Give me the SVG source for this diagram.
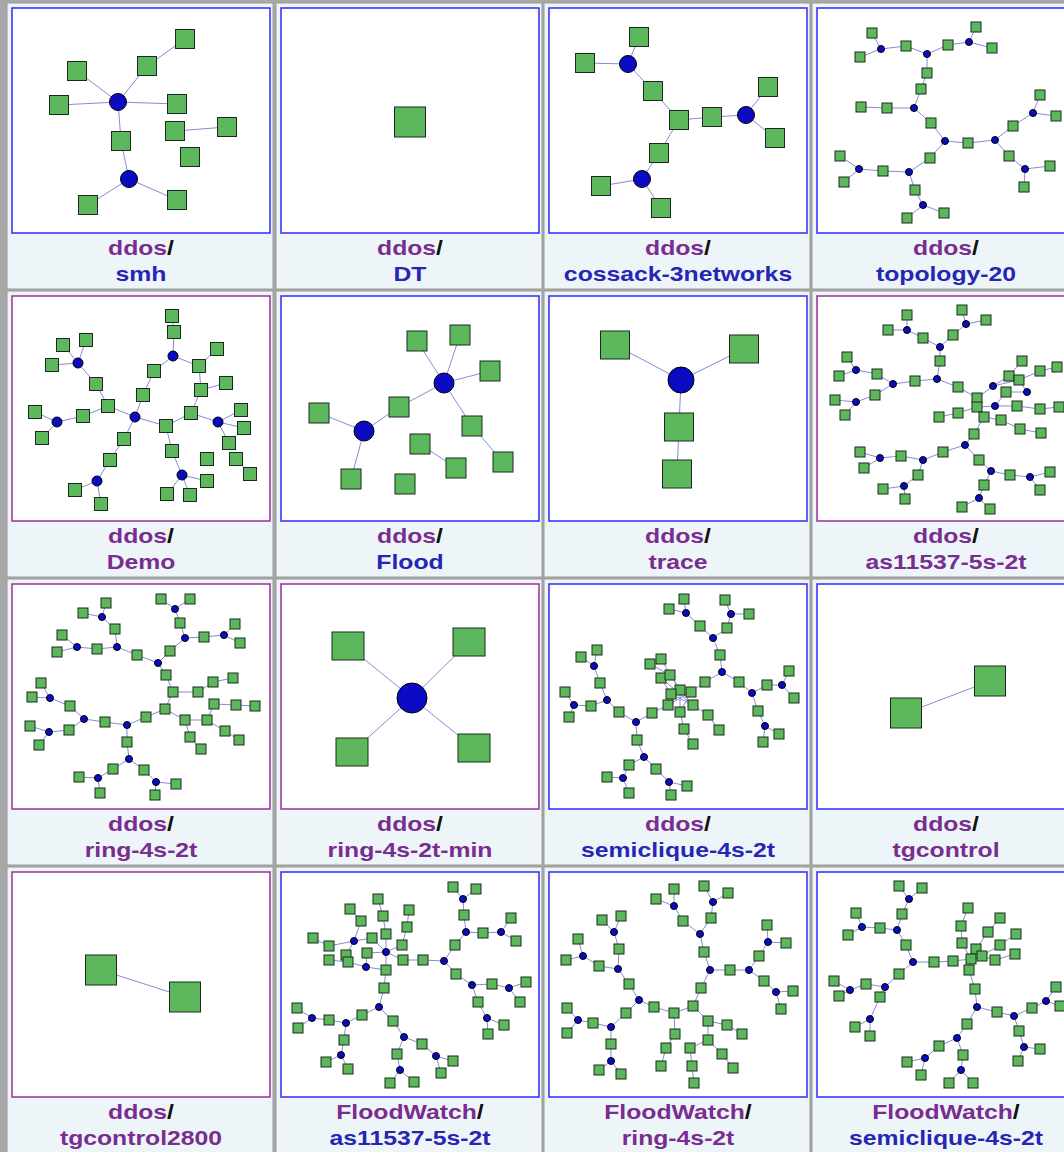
<svg xmlns="http://www.w3.org/2000/svg" xmlns:xlink="http://www.w3.org/1999/xlink" width="1064" height="1152" viewBox="0 0 1064 1152">
<style>
.cell{fill:#eef5f8;stroke:#9a9a9a;stroke-width:1}
.fb{fill:#fff;stroke:#2b2bff;stroke-width:1.5}
.fp{fill:#fff;stroke:#9b2f98;stroke-width:1.5}
.e{fill:none;stroke:#8a8ad6;stroke-width:1}
.g{fill:#5db85d;stroke:#1b2b1b;stroke-width:1}
.h{fill:#0b0bc4;stroke:#000;stroke-width:1}
.t{font-family:"Liberation Sans",Arial,sans-serif;font-weight:bold;font-size:19.5px;text-anchor:middle}
.p{fill:#7a2d90}
.k{fill:#111}
.b{fill:#2626b4}
</style>
<defs>
<rect id="q10" class="g" x="-5" y="-5" width="10" height="10"/>
<rect id="q13" class="g" x="-6.5" y="-6.5" width="13" height="13"/>
<rect id="q19" class="g" x="-9.5" y="-9.5" width="19" height="19"/>
<rect id="q20" class="g" x="-10" y="-10" width="20" height="20"/>
<rect id="q29" class="g" x="-14.5" y="-14" width="29" height="28"/>
<rect id="q31" class="g" x="-15.5" y="-15" width="31" height="30"/>
<rect id="q32" class="g" x="-16" y="-14" width="32" height="28"/>
</defs>
<rect x="0" y="0" width="1064" height="1152" fill="#a8a8a8"/>
<g id="cells">
<rect class="cell" x="7" y="3" width="266" height="286"/><rect class="cell" x="276" y="3" width="266" height="286"/><rect class="cell" x="544" y="3" width="266" height="286"/><rect class="cell" x="812" y="3" width="266" height="286"/>
<rect class="cell" x="7" y="291" width="266" height="286"/><rect class="cell" x="276" y="291" width="266" height="286"/><rect class="cell" x="544" y="291" width="266" height="286"/><rect class="cell" x="812" y="291" width="266" height="286"/>
<rect class="cell" x="7" y="579" width="266" height="286"/><rect class="cell" x="276" y="579" width="266" height="286"/><rect class="cell" x="544" y="579" width="266" height="286"/><rect class="cell" x="812" y="579" width="266" height="286"/>
<rect class="cell" x="7" y="867" width="266" height="290"/><rect class="cell" x="276" y="867" width="266" height="290"/><rect class="cell" x="544" y="867" width="266" height="290"/><rect class="cell" x="812" y="867" width="266" height="290"/>
</g>
<g id="frames">
<rect class="fb" x="12" y="8" width="258" height="225"/><rect class="fb" x="281" y="8" width="258" height="225"/><rect class="fb" x="549" y="8" width="258" height="225"/><rect class="fb" x="817" y="8" width="258" height="225"/>
<rect class="fp" x="12" y="296" width="258" height="225"/><rect class="fb" x="281" y="296" width="258" height="225"/><rect class="fb" x="549" y="296" width="258" height="225"/><rect class="fp" x="817" y="296" width="258" height="225"/>
<rect class="fp" x="12" y="584" width="258" height="225"/><rect class="fp" x="281" y="584" width="258" height="225"/><rect class="fb" x="549" y="584" width="258" height="225"/><rect class="fb" x="817" y="584" width="258" height="225"/>
<rect class="fp" x="12" y="872" width="258" height="225"/><rect class="fb" x="281" y="872" width="258" height="225"/><rect class="fb" x="549" y="872" width="258" height="225"/><rect class="fb" x="817" y="872" width="258" height="225"/>
</g>
<g id="connectors">
<path class="e" d="M147,66L185,39 M118,102L147,66 M118,102L77,71 M118,102L59,105 M118,102L177,104 M118,102L121,141 M121,141L129,179 M129,179L88,205 M129,179L177,200 M175,131L227,127"/>
<path class="e" d="M628,64L639,37 M628,64L585,63 M628,64L653,91 M653,91L679,120 M679,120L712,117 M712,117L746,115 M746,115L768,87 M746,115L775,138 M679,120L659,153 M659,153L642,179 M642,179L601,186 M642,179L661,208"/>
<path class="e" d="M881,49L872,33 M881,49L860,57 M881,49L906,46 M906,46L927,54 M927,54L948,45 M948,45L969,42 M969,42L976,27 M969,42L992,48 M927,54L927,73 M927,73L921,89 M921,89L914,108 M914,108L887,108 M887,108L861,107 M914,108L931,123 M931,123L945,141 M945,141L968,143 M968,143L995,140 M995,140L1013,126 M1013,126L1033,113 M1033,113L1040,95 M1033,113L1056,116 M995,140L1009,156 M1009,156L1025,169 M1025,169L1050,166 M1025,169L1024,187 M945,141L930,158 M930,158L909,172 M909,172L883,171 M883,171L859,169 M859,169L840,156 M859,169L844,182 M909,172L915,190 M915,190L923,205 M923,205L907,218 M923,205L944,213"/>
<path class="e" d="M78,363L63,345 M78,363L86,340 M78,363L52,365 M78,363L96,384 M96,384L108,406 M108,406L83,416 M83,416L57,422 M57,422L35,412 M57,422L42,438 M108,406L135,417 M135,417L143,395 M143,395L154,371 M154,371L173,356 M173,356L174,332 M174,332L172,316 M173,356L199,366 M199,366L217,349 M199,366L201,390 M201,390L226,383 M201,390L191,413 M191,413L218,422 M218,422L241,410 M218,422L244,428 M218,422L229,443 M135,417L166,426 M166,426L191,413 M166,426L172,451 M172,451L182,475 M182,475L207,481 M182,475L167,494 M182,475L190,495 M135,417L124,439 M124,439L110,460 M110,460L97,481 M97,481L75,490 M97,481L101,504 M236,459L250,474"/>
<path class="e" d="M444,383L417,341 M444,383L460,335 M444,383L490,371 M444,383L399,407 M399,407L364,431 M364,431L319,413 M364,431L351,479 M444,383L472,426 M472,426L503,462 M420,444L456,468"/>
<path class="e" d="M681,380L615,345 M681,380L744,349 M681,380L679,427 M679,427L677,474"/>
<path class="e" d="M907,330L907,315 M907,330L888,330 M907,330L923,338 M923,338L940,347 M940,347L953,335 M953,335L966,324 M966,324L962,310 M966,324L986,320 M940,347L940,361 M940,361L937,379 M937,379L915,381 M915,381L893,384 M893,384L877,374 M877,374L856,370 M856,370L847,357 M856,370L839,376 M893,384L875,395 M875,395L856,402 M856,402L835,400 M856,402L845,415 M937,379L958,387 M958,387L977,398 M977,398L993,386 M993,386L1009,376 M1009,376L1022,361 M993,386L1019,380 M1019,380L1040,371 M1040,371L1057,367 M977,398L977,407 M977,407L995,406 M995,406L1017,406 M1017,406L1040,409 M1040,409L1059,407 M1006,392L1027,392 M1027,392L1019,380 M995,406L1006,392 M977,407L958,413 M958,413L939,417 M977,407L984,417 M984,417L1001,420 M1001,420L1020,429 M1020,429L1041,433 M984,417L974,434 M974,434L965,445 M965,445L943,452 M943,452L923,460 M923,460L901,456 M901,456L880,458 M880,458L860,452 M880,458L864,468 M923,460L918,475 M918,475L904,486 M904,486L883,489 M904,486L905,499 M965,445L979,460 M979,460L991,471 M991,471L1010,475 M1010,475L1030,477 M1030,477L1050,472 M1030,477L1040,490 M991,471L984,485 M984,485L979,498 M979,498L962,507 M979,498L990,509"/>
<path class="e" d="M102,617L106,603 M102,617L83,613 M102,617L115,629 M115,629L117,647 M117,647L97,649 M97,649L77,647 M77,647L62,635 M77,647L57,652 M117,647L137,655 M137,655L158,663 M158,663L170,651 M170,651L185,638 M185,638L180,623 M180,623L175,609 M175,609L161,599 M175,609L190,599 M185,638L204,637 M204,637L224,635 M224,635L235,624 M224,635L240,643 M158,663L166,675 M166,675L173,692 M173,692L198,692 M198,692L213,682 M213,682L233,678 M173,692L165,709 M165,709L146,717 M146,717L127,725 M165,709L185,720 M185,720L207,720 M207,720L214,704 M214,704L236,705 M236,705L255,706 M207,720L225,731 M225,731L239,740 M185,720L190,737 M190,737L201,749 M127,725L105,722 M105,722L84,719 M84,719L70,706 M70,706L50,698 M50,698L41,683 M50,698L32,697 M84,719L69,730 M69,730L49,732 M49,732L30,726 M49,732L39,745 M127,725L127,742 M127,742L129,759 M129,759L113,769 M113,769L98,778 M98,778L79,777 M98,778L100,793 M129,759L144,770 M144,770L156,782 M156,782L176,784 M156,782L155,795"/>
<path class="e" d="M412,698L348,646 M412,698L469,642 M412,698L352,752 M412,698L474,748"/>
<path class="e" d="M686,613L684,599 M686,613L669,609 M686,613L700,626 M700,626L713,638 M731,614L725,600 M731,614L749,614 M731,614L727,628 M727,628L713,638 M713,638L720,655 M720,655L722,672 M722,672L705,682 M705,682L691,692 M722,672L739,682 M739,682L752,693 M752,693L767,685 M767,685L782,685 M782,685L789,671 M782,685L794,698 M752,693L758,711 M758,711L765,726 M765,726L779,734 M765,726L763,742 M661,659L680,690 M650,664L670,675 M670,675L680,690 M661,678L671,694 M661,678L693,705 M680,690L680,712 M671,694L693,705 M668,705L691,692 M691,692L680,712 M668,705L652,713 M680,690L668,705 M652,713L636,722 M636,722L619,712 M619,712L607,700 M607,700L600,683 M600,683L594,666 M594,666L597,650 M594,666L581,657 M607,700L591,706 M591,706L574,705 M574,705L565,692 M574,705L569,717 M636,722L637,740 M637,740L644,757 M644,757L629,765 M629,765L623,778 M623,778L607,777 M623,778L629,793 M644,757L656,769 M656,769L669,782 M669,782L687,786 M669,782L671,795 M680,712L684,729 M684,729L693,744 M693,705L708,715 M708,715L719,730"/>
<path class="e" d="M906,713L990,681"/>
<path class="e" d="M101,970L185,997"/>
<path class="e" d="M463,899L453,887 M463,899L476,889 M463,899L464,915 M464,915L466,932 M466,932L483,933 M483,933L501,932 M501,932L511,918 M501,932L516,941 M466,932L455,945 M455,945L444,961 M444,961L423,960 M423,960L403,960 M444,961L456,974 M456,974L472,985 M472,985L492,984 M492,984L509,988 M509,988L526,982 M509,988L520,1002 M472,985L478,1002 M478,1002L487,1018 M487,1018L504,1025 M487,1018L488,1034 M386,952L403,960 M386,952L386,934 M386,934L383,916 M383,916L378,899 M386,952L402,945 M402,945L407,927 M407,927L409,910 M386,952L367,953 M386,952L386,970 M386,970L384,988 M384,988L379,1007 M350,909L361,921 M361,921L354,941 M354,941L372,938 M354,941L329,946 M329,946L313,938 M354,941L346,955 M346,955L348,962 M329,960L348,962 M348,962L366,967 M366,967L367,953 M366,967L386,970 M372,938L386,952 M379,1007L362,1015 M362,1015L346,1023 M346,1023L329,1020 M329,1020L312,1018 M312,1018L297,1008 M312,1018L298,1028 M346,1023L344,1040 M344,1040L341,1055 M341,1055L326,1062 M341,1055L348,1069 M379,1007L393,1021 M393,1021L404,1037 M404,1037L422,1044 M422,1044L436,1056 M436,1056L453,1061 M436,1056L441,1073 M404,1037L397,1054 M397,1054L400,1070 M400,1070L390,1083 M400,1070L414,1082"/>
<path class="e" d="M674,906L674,889 M674,906L656,899 M674,906L683,921 M683,921L700,934 M713,902L704,886 M713,902L728,893 M713,902L711,918 M711,918L700,934 M700,934L704,952 M704,952L710,970 M710,970L730,970 M730,970L749,970 M749,970L759,956 M759,956L768,942 M768,942L767,925 M768,942L786,943 M749,970L764,981 M764,981L776,992 M776,992L793,991 M776,992L781,1009 M710,970L701,988 M701,988L693,1006 M693,1006L674,1013 M674,1013L654,1007 M654,1007L639,1000 M674,1013L675,1034 M675,1034L666,1048 M666,1048L661,1066 M693,1006L708,1021 M708,1021L727,1025 M727,1025L742,1034 M708,1021L708,1040 M708,1040L722,1054 M722,1054L733,1068 M708,1040L690,1048 M690,1048L692,1066 M692,1066L694,1083 M639,1000L629,984 M629,984L618,969 M618,969L599,966 M599,966L583,956 M583,956L578,939 M583,956L566,960 M618,969L619,949 M619,949L614,932 M614,932L602,920 M614,932L621,916 M639,1000L626,1013 M626,1013L611,1027 M611,1027L593,1023 M593,1023L578,1020 M578,1020L567,1008 M578,1020L567,1033 M611,1027L611,1044 M611,1044L611,1061 M611,1061L599,1070 M611,1061L621,1074"/>
<path class="e" d="M909,899L899,886 M909,899L922,888 M909,899L902,914 M902,914L897,930 M897,930L880,928 M880,928L862,927 M862,927L856,913 M862,927L848,935 M897,930L906,945 M906,945L913,962 M913,962L934,962 M934,962L953,961 M953,961L971,959 M971,959L962,943 M962,943L961,926 M961,926L968,908 M971,959L976,949 M976,949L988,932 M988,932L1000,918 M982,956L1000,945 M1000,945L1016,934 M982,956L995,960 M995,960L1015,954 M971,959L982,956 M971,959L969,970 M969,970L975,989 M975,989L977,1007 M977,1007L997,1012 M997,1012L1014,1016 M1014,1016L1032,1008 M1032,1008L1046,1001 M1046,1001L1056,987 M1046,1001L1060,1006 M1014,1016L1019,1031 M1019,1031L1024,1047 M1024,1047L1040,1049 M1024,1047L1018,1061 M977,1007L967,1024 M967,1024L957,1038 M957,1038L939,1046 M939,1046L925,1058 M925,1058L907,1062 M925,1058L921,1075 M957,1038L963,1055 M963,1055L961,1070 M961,1070L949,1083 M961,1070L973,1083 M913,962L899,974 M899,974L885,987 M885,987L866,984 M866,984L850,990 M850,990L834,981 M850,990L839,996 M885,987L880,997 M880,997L870,1019 M870,1019L855,1027 M870,1019L870,1036"/>
</g>
<g id="smh">
<use href="#q19" x="185" y="39"/><use href="#q19" x="147" y="66"/><use href="#q19" x="77" y="71"/><use href="#q19" x="59" y="105"/><use href="#q19" x="177" y="104"/><use href="#q19" x="175" y="131"/><use href="#q19" x="227" y="127"/><use href="#q19" x="190" y="157"/><use href="#q19" x="121" y="141"/><use href="#q19" x="88" y="205"/><use href="#q19" x="177" y="200"/>
<circle class="h" cx="118" cy="102" r="8.5"/><circle class="h" cx="129" cy="179" r="8.5"/>
</g>
<g id="DT"><use href="#q31" x="410" y="122"/></g>
<g id="cossack-3networks">
<use href="#q19" x="639" y="37"/><use href="#q19" x="585" y="63"/><use href="#q19" x="653" y="91"/><use href="#q19" x="679" y="120"/><use href="#q19" x="712" y="117"/><use href="#q19" x="768" y="87"/><use href="#q19" x="775" y="138"/><use href="#q19" x="659" y="153"/><use href="#q19" x="601" y="186"/><use href="#q19" x="661" y="208"/>
<circle class="h" cx="628" cy="64" r="8.5"/><circle class="h" cx="746" cy="115" r="8.5"/><circle class="h" cx="642" cy="179" r="8.5"/>
</g>
<g id="topology-20">
<use href="#q10" x="872" y="33"/><use href="#q10" x="860" y="57"/><use href="#q10" x="906" y="46"/><use href="#q10" x="948" y="45"/><use href="#q10" x="976" y="27"/><use href="#q10" x="992" y="48"/><use href="#q10" x="927" y="73"/><use href="#q10" x="921" y="89"/><use href="#q10" x="861" y="107"/><use href="#q10" x="887" y="108"/><use href="#q10" x="931" y="123"/><use href="#q10" x="968" y="143"/><use href="#q10" x="1013" y="126"/><use href="#q10" x="1040" y="95"/><use href="#q10" x="1056" y="116"/><use href="#q10" x="1009" y="156"/><use href="#q10" x="1050" y="166"/><use href="#q10" x="1024" y="187"/><use href="#q10" x="930" y="158"/><use href="#q10" x="883" y="171"/><use href="#q10" x="840" y="156"/><use href="#q10" x="844" y="182"/><use href="#q10" x="915" y="190"/><use href="#q10" x="907" y="218"/><use href="#q10" x="944" y="213"/>
<circle class="h" cx="881" cy="49" r="3.5"/><circle class="h" cx="927" cy="54" r="3.5"/><circle class="h" cx="969" cy="42" r="3.5"/><circle class="h" cx="914" cy="108" r="3.5"/><circle class="h" cx="945" cy="141" r="3.5"/><circle class="h" cx="995" cy="140" r="3.5"/><circle class="h" cx="1033" cy="113" r="3.5"/><circle class="h" cx="1025" cy="169" r="3.5"/><circle class="h" cx="859" cy="169" r="3.5"/><circle class="h" cx="909" cy="172" r="3.5"/><circle class="h" cx="923" cy="205" r="3.5"/>
</g>
<g id="Demo">
<use href="#q13" x="172" y="316"/><use href="#q13" x="174" y="332"/><use href="#q13" x="63" y="345"/><use href="#q13" x="86" y="340"/><use href="#q13" x="52" y="365"/><use href="#q13" x="96" y="384"/><use href="#q13" x="108" y="406"/><use href="#q13" x="83" y="416"/><use href="#q13" x="35" y="412"/><use href="#q13" x="42" y="438"/><use href="#q13" x="154" y="371"/><use href="#q13" x="143" y="395"/><use href="#q13" x="217" y="349"/><use href="#q13" x="199" y="366"/><use href="#q13" x="226" y="383"/><use href="#q13" x="201" y="390"/><use href="#q13" x="191" y="413"/><use href="#q13" x="166" y="426"/><use href="#q13" x="241" y="410"/><use href="#q13" x="244" y="428"/><use href="#q13" x="229" y="443"/><use href="#q13" x="124" y="439"/><use href="#q13" x="110" y="460"/><use href="#q13" x="172" y="451"/><use href="#q13" x="207" y="459"/><use href="#q13" x="236" y="459"/><use href="#q13" x="250" y="474"/><use href="#q13" x="207" y="481"/><use href="#q13" x="167" y="494"/><use href="#q13" x="190" y="495"/><use href="#q13" x="75" y="490"/><use href="#q13" x="101" y="504"/>
<circle class="h" cx="78" cy="363" r="5"/><circle class="h" cx="57" cy="422" r="5"/><circle class="h" cx="135" cy="417" r="5"/><circle class="h" cx="173" cy="356" r="5"/><circle class="h" cx="218" cy="422" r="5"/><circle class="h" cx="182" cy="475" r="5"/><circle class="h" cx="97" cy="481" r="5"/>
</g>
<g id="Flood">
<use href="#q20" x="417" y="341"/><use href="#q20" x="460" y="335"/><use href="#q20" x="490" y="371"/><use href="#q20" x="399" y="407"/><use href="#q20" x="319" y="413"/><use href="#q20" x="472" y="426"/><use href="#q20" x="420" y="444"/><use href="#q20" x="456" y="468"/><use href="#q20" x="503" y="462"/><use href="#q20" x="351" y="479"/><use href="#q20" x="405" y="484"/>
<circle class="h" cx="444" cy="383" r="10"/><circle class="h" cx="364" cy="431" r="10"/>
</g>
<g id="trace">
<use href="#q29" x="615" y="345"/><use href="#q29" x="744" y="349"/><use href="#q29" x="679" y="427"/><use href="#q29" x="677" y="474"/>
<circle class="h" cx="681" cy="380" r="13"/>
</g>
<g id="as11537-5s-2t">
<use href="#q10" x="907" y="315"/><use href="#q10" x="962" y="310"/><use href="#q10" x="986" y="320"/><use href="#q10" x="888" y="330"/><use href="#q10" x="923" y="338"/><use href="#q10" x="953" y="335"/><use href="#q10" x="940" y="361"/><use href="#q10" x="847" y="357"/><use href="#q10" x="839" y="376"/><use href="#q10" x="877" y="374"/><use href="#q10" x="915" y="381"/><use href="#q10" x="958" y="387"/><use href="#q10" x="875" y="395"/><use href="#q10" x="835" y="400"/><use href="#q10" x="845" y="415"/><use href="#q10" x="1022" y="361"/><use href="#q10" x="1040" y="371"/><use href="#q10" x="1057" y="367"/><use href="#q10" x="1009" y="376"/><use href="#q10" x="1019" y="380"/><use href="#q10" x="1006" y="392"/><use href="#q10" x="977" y="398"/><use href="#q10" x="977" y="407"/><use href="#q10" x="1017" y="406"/><use href="#q10" x="1040" y="409"/><use href="#q10" x="1059" y="407"/><use href="#q10" x="939" y="417"/><use href="#q10" x="958" y="413"/><use href="#q10" x="984" y="417"/><use href="#q10" x="1001" y="420"/><use href="#q10" x="1020" y="429"/><use href="#q10" x="1041" y="433"/><use href="#q10" x="974" y="434"/><use href="#q10" x="943" y="452"/><use href="#q10" x="901" y="456"/><use href="#q10" x="860" y="452"/><use href="#q10" x="864" y="468"/><use href="#q10" x="918" y="475"/><use href="#q10" x="883" y="489"/><use href="#q10" x="905" y="499"/><use href="#q10" x="979" y="460"/><use href="#q10" x="1010" y="475"/><use href="#q10" x="1050" y="472"/><use href="#q10" x="1040" y="490"/><use href="#q10" x="984" y="485"/><use href="#q10" x="962" y="507"/><use href="#q10" x="990" y="509"/>
<circle class="h" cx="907" cy="330" r="3.5"/><circle class="h" cx="966" cy="324" r="3.5"/><circle class="h" cx="940" cy="347" r="3.5"/><circle class="h" cx="937" cy="379" r="3.5"/><circle class="h" cx="893" cy="384" r="3.5"/><circle class="h" cx="856" cy="370" r="3.5"/><circle class="h" cx="856" cy="402" r="3.5"/><circle class="h" cx="993" cy="386" r="3.5"/><circle class="h" cx="1027" cy="392" r="3.5"/><circle class="h" cx="995" cy="406" r="3.5"/><circle class="h" cx="965" cy="445" r="3.5"/><circle class="h" cx="923" cy="460" r="3.5"/><circle class="h" cx="880" cy="458" r="3.5"/><circle class="h" cx="904" cy="486" r="3.5"/><circle class="h" cx="991" cy="471" r="3.5"/><circle class="h" cx="1030" cy="477" r="3.5"/><circle class="h" cx="979" cy="498" r="3.5"/>
</g>
<g id="ring-4s-2t">
<use href="#q10" x="106" y="603"/><use href="#q10" x="83" y="613"/><use href="#q10" x="161" y="599"/><use href="#q10" x="190" y="599"/><use href="#q10" x="115" y="629"/><use href="#q10" x="180" y="623"/><use href="#q10" x="235" y="624"/><use href="#q10" x="240" y="643"/><use href="#q10" x="204" y="637"/><use href="#q10" x="62" y="635"/><use href="#q10" x="57" y="652"/><use href="#q10" x="97" y="649"/><use href="#q10" x="137" y="655"/><use href="#q10" x="170" y="651"/><use href="#q10" x="166" y="675"/><use href="#q10" x="41" y="683"/><use href="#q10" x="32" y="697"/><use href="#q10" x="233" y="678"/><use href="#q10" x="213" y="682"/><use href="#q10" x="173" y="692"/><use href="#q10" x="198" y="692"/><use href="#q10" x="70" y="706"/><use href="#q10" x="214" y="704"/><use href="#q10" x="236" y="705"/><use href="#q10" x="255" y="706"/><use href="#q10" x="165" y="709"/><use href="#q10" x="146" y="717"/><use href="#q10" x="105" y="722"/><use href="#q10" x="185" y="720"/><use href="#q10" x="207" y="720"/><use href="#q10" x="30" y="726"/><use href="#q10" x="69" y="730"/><use href="#q10" x="39" y="745"/><use href="#q10" x="225" y="731"/><use href="#q10" x="239" y="740"/><use href="#q10" x="190" y="737"/><use href="#q10" x="201" y="749"/><use href="#q10" x="127" y="742"/><use href="#q10" x="113" y="769"/><use href="#q10" x="144" y="770"/><use href="#q10" x="79" y="777"/><use href="#q10" x="176" y="784"/><use href="#q10" x="100" y="793"/><use href="#q10" x="155" y="795"/>
<circle class="h" cx="102" cy="617" r="3.5"/><circle class="h" cx="175" cy="609" r="3.5"/><circle class="h" cx="185" cy="638" r="3.5"/><circle class="h" cx="224" cy="635" r="3.5"/><circle class="h" cx="77" cy="647" r="3.5"/><circle class="h" cx="117" cy="647" r="3.5"/><circle class="h" cx="158" cy="663" r="3.5"/><circle class="h" cx="50" cy="698" r="3.5"/><circle class="h" cx="84" cy="719" r="3.5"/><circle class="h" cx="49" cy="732" r="3.5"/><circle class="h" cx="127" cy="725" r="3.5"/><circle class="h" cx="129" cy="759" r="3.5"/><circle class="h" cx="98" cy="778" r="3.5"/><circle class="h" cx="156" cy="782" r="3.5"/>
</g>
<g id="ring-4s-2t-min">
<use href="#q32" x="348" y="646"/><use href="#q32" x="469" y="642"/><use href="#q32" x="352" y="752"/><use href="#q32" x="474" y="748"/>
<circle class="h" cx="412" cy="698" r="15"/>
</g>
<g id="semiclique-4s-2t">
<use href="#q10" x="684" y="599"/><use href="#q10" x="669" y="609"/><use href="#q10" x="725" y="600"/><use href="#q10" x="749" y="614"/><use href="#q10" x="700" y="626"/><use href="#q10" x="727" y="628"/><use href="#q10" x="597" y="650"/><use href="#q10" x="581" y="657"/><use href="#q10" x="720" y="655"/><use href="#q10" x="661" y="659"/><use href="#q10" x="650" y="664"/><use href="#q10" x="789" y="671"/><use href="#q10" x="661" y="678"/><use href="#q10" x="670" y="675"/><use href="#q10" x="600" y="683"/><use href="#q10" x="705" y="682"/><use href="#q10" x="739" y="682"/><use href="#q10" x="767" y="685"/><use href="#q10" x="565" y="692"/><use href="#q10" x="680" y="690"/><use href="#q10" x="691" y="692"/><use href="#q10" x="671" y="694"/><use href="#q10" x="794" y="698"/><use href="#q10" x="591" y="706"/><use href="#q10" x="668" y="705"/><use href="#q10" x="693" y="705"/><use href="#q10" x="619" y="712"/><use href="#q10" x="652" y="713"/><use href="#q10" x="680" y="712"/><use href="#q10" x="708" y="715"/><use href="#q10" x="758" y="711"/><use href="#q10" x="569" y="717"/><use href="#q10" x="684" y="729"/><use href="#q10" x="719" y="730"/><use href="#q10" x="779" y="734"/><use href="#q10" x="763" y="742"/><use href="#q10" x="693" y="744"/><use href="#q10" x="637" y="740"/><use href="#q10" x="629" y="765"/><use href="#q10" x="656" y="769"/><use href="#q10" x="607" y="777"/><use href="#q10" x="687" y="786"/><use href="#q10" x="629" y="793"/><use href="#q10" x="671" y="795"/>
<circle class="h" cx="686" cy="613" r="3.5"/><circle class="h" cx="731" cy="614" r="3.5"/><circle class="h" cx="713" cy="638" r="3.5"/><circle class="h" cx="594" cy="666" r="3.5"/><circle class="h" cx="722" cy="672" r="3.5"/><circle class="h" cx="782" cy="685" r="3.5"/><circle class="h" cx="752" cy="693" r="3.5"/><circle class="h" cx="607" cy="700" r="3.5"/><circle class="h" cx="574" cy="705" r="3.5"/><circle class="h" cx="636" cy="722" r="3.5"/><circle class="h" cx="765" cy="726" r="3.5"/><circle class="h" cx="644" cy="757" r="3.5"/><circle class="h" cx="623" cy="778" r="3.5"/><circle class="h" cx="669" cy="782" r="3.5"/>
</g>
<g id="tgcontrol"><use href="#q31" x="906" y="713"/><use href="#q31" x="990" y="681"/></g>
<g id="tgcontrol2800"><use href="#q31" x="101" y="970"/><use href="#q31" x="185" y="997"/></g>
<g id="fw-as11537-5s-2t">
<use href="#q10" x="453" y="887"/><use href="#q10" x="476" y="889"/><use href="#q10" x="378" y="899"/><use href="#q10" x="409" y="910"/><use href="#q10" x="350" y="909"/><use href="#q10" x="383" y="916"/><use href="#q10" x="361" y="921"/><use href="#q10" x="464" y="915"/><use href="#q10" x="407" y="927"/><use href="#q10" x="511" y="918"/><use href="#q10" x="386" y="934"/><use href="#q10" x="372" y="938"/><use href="#q10" x="313" y="938"/><use href="#q10" x="483" y="933"/><use href="#q10" x="516" y="941"/><use href="#q10" x="329" y="946"/><use href="#q10" x="402" y="945"/><use href="#q10" x="455" y="945"/><use href="#q10" x="367" y="953"/><use href="#q10" x="346" y="955"/><use href="#q10" x="329" y="960"/><use href="#q10" x="348" y="962"/><use href="#q10" x="403" y="960"/><use href="#q10" x="423" y="960"/><use href="#q10" x="386" y="970"/><use href="#q10" x="456" y="974"/><use href="#q10" x="492" y="984"/><use href="#q10" x="526" y="982"/><use href="#q10" x="384" y="988"/><use href="#q10" x="478" y="1002"/><use href="#q10" x="520" y="1002"/><use href="#q10" x="297" y="1008"/><use href="#q10" x="329" y="1020"/><use href="#q10" x="362" y="1015"/><use href="#q10" x="393" y="1021"/><use href="#q10" x="504" y="1025"/><use href="#q10" x="298" y="1028"/><use href="#q10" x="344" y="1040"/><use href="#q10" x="422" y="1044"/><use href="#q10" x="488" y="1034"/><use href="#q10" x="397" y="1054"/><use href="#q10" x="453" y="1061"/><use href="#q10" x="326" y="1062"/><use href="#q10" x="348" y="1069"/><use href="#q10" x="441" y="1073"/><use href="#q10" x="390" y="1083"/><use href="#q10" x="414" y="1082"/>
<circle class="h" cx="463" cy="899" r="3.5"/><circle class="h" cx="466" cy="932" r="3.5"/><circle class="h" cx="501" cy="932" r="3.5"/><circle class="h" cx="354" cy="941" r="3.5"/><circle class="h" cx="386" cy="952" r="3.5"/><circle class="h" cx="366" cy="967" r="3.5"/><circle class="h" cx="444" cy="961" r="3.5"/><circle class="h" cx="472" cy="985" r="3.5"/><circle class="h" cx="509" cy="988" r="3.5"/><circle class="h" cx="487" cy="1018" r="3.5"/><circle class="h" cx="379" cy="1007" r="3.5"/><circle class="h" cx="312" cy="1018" r="3.5"/><circle class="h" cx="346" cy="1023" r="3.5"/><circle class="h" cx="404" cy="1037" r="3.5"/><circle class="h" cx="341" cy="1055" r="3.5"/><circle class="h" cx="436" cy="1056" r="3.5"/><circle class="h" cx="400" cy="1070" r="3.5"/>
</g>
<g id="fw-ring-4s-2t">
<use href="#q10" x="674" y="889"/><use href="#q10" x="704" y="886"/><use href="#q10" x="728" y="893"/><use href="#q10" x="656" y="899"/><use href="#q10" x="683" y="921"/><use href="#q10" x="711" y="918"/><use href="#q10" x="602" y="920"/><use href="#q10" x="621" y="916"/><use href="#q10" x="767" y="925"/><use href="#q10" x="578" y="939"/><use href="#q10" x="786" y="943"/><use href="#q10" x="619" y="949"/><use href="#q10" x="704" y="952"/><use href="#q10" x="759" y="956"/><use href="#q10" x="566" y="960"/><use href="#q10" x="599" y="966"/><use href="#q10" x="730" y="970"/><use href="#q10" x="629" y="984"/><use href="#q10" x="764" y="981"/><use href="#q10" x="793" y="991"/><use href="#q10" x="701" y="988"/><use href="#q10" x="781" y="1009"/><use href="#q10" x="567" y="1008"/><use href="#q10" x="654" y="1007"/><use href="#q10" x="693" y="1006"/><use href="#q10" x="674" y="1013"/><use href="#q10" x="626" y="1013"/><use href="#q10" x="593" y="1023"/><use href="#q10" x="708" y="1021"/><use href="#q10" x="567" y="1033"/><use href="#q10" x="727" y="1025"/><use href="#q10" x="742" y="1034"/><use href="#q10" x="675" y="1034"/><use href="#q10" x="708" y="1040"/><use href="#q10" x="611" y="1044"/><use href="#q10" x="666" y="1048"/><use href="#q10" x="690" y="1048"/><use href="#q10" x="722" y="1054"/><use href="#q10" x="661" y="1066"/><use href="#q10" x="692" y="1066"/><use href="#q10" x="733" y="1068"/><use href="#q10" x="599" y="1070"/><use href="#q10" x="621" y="1074"/><use href="#q10" x="694" y="1083"/>
<circle class="h" cx="674" cy="906" r="3.5"/><circle class="h" cx="713" cy="902" r="3.5"/><circle class="h" cx="700" cy="934" r="3.5"/><circle class="h" cx="614" cy="932" r="3.5"/><circle class="h" cx="768" cy="942" r="3.5"/><circle class="h" cx="583" cy="956" r="3.5"/><circle class="h" cx="618" cy="969" r="3.5"/><circle class="h" cx="710" cy="970" r="3.5"/><circle class="h" cx="749" cy="970" r="3.5"/><circle class="h" cx="776" cy="992" r="3.5"/><circle class="h" cx="639" cy="1000" r="3.5"/><circle class="h" cx="578" cy="1020" r="3.5"/><circle class="h" cx="611" cy="1027" r="3.5"/><circle class="h" cx="611" cy="1061" r="3.5"/>
</g>
<g id="fw-semiclique-4s-2t">
<use href="#q10" x="899" y="886"/><use href="#q10" x="922" y="888"/><use href="#q10" x="856" y="913"/><use href="#q10" x="902" y="914"/><use href="#q10" x="968" y="908"/><use href="#q10" x="1000" y="918"/><use href="#q10" x="848" y="935"/><use href="#q10" x="880" y="928"/><use href="#q10" x="961" y="926"/><use href="#q10" x="988" y="932"/><use href="#q10" x="1016" y="934"/><use href="#q10" x="906" y="945"/><use href="#q10" x="962" y="943"/><use href="#q10" x="1000" y="945"/><use href="#q10" x="976" y="949"/><use href="#q10" x="1015" y="954"/><use href="#q10" x="934" y="962"/><use href="#q10" x="953" y="961"/><use href="#q10" x="971" y="959"/><use href="#q10" x="982" y="956"/><use href="#q10" x="995" y="960"/><use href="#q10" x="969" y="970"/><use href="#q10" x="899" y="974"/><use href="#q10" x="834" y="981"/><use href="#q10" x="866" y="984"/><use href="#q10" x="1056" y="987"/><use href="#q10" x="975" y="989"/><use href="#q10" x="839" y="996"/><use href="#q10" x="880" y="997"/><use href="#q10" x="1032" y="1008"/><use href="#q10" x="1060" y="1006"/><use href="#q10" x="997" y="1012"/><use href="#q10" x="967" y="1024"/><use href="#q10" x="1019" y="1031"/><use href="#q10" x="855" y="1027"/><use href="#q10" x="870" y="1036"/><use href="#q10" x="939" y="1046"/><use href="#q10" x="1040" y="1049"/><use href="#q10" x="907" y="1062"/><use href="#q10" x="963" y="1055"/><use href="#q10" x="1018" y="1061"/><use href="#q10" x="921" y="1075"/><use href="#q10" x="949" y="1083"/><use href="#q10" x="973" y="1083"/>
<circle class="h" cx="909" cy="899" r="3.5"/><circle class="h" cx="862" cy="927" r="3.5"/><circle class="h" cx="897" cy="930" r="3.5"/><circle class="h" cx="913" cy="962" r="3.5"/><circle class="h" cx="885" cy="987" r="3.5"/><circle class="h" cx="850" cy="990" r="3.5"/><circle class="h" cx="977" cy="1007" r="3.5"/><circle class="h" cx="1046" cy="1001" r="3.5"/><circle class="h" cx="1014" cy="1016" r="3.5"/><circle class="h" cx="870" cy="1019" r="3.5"/><circle class="h" cx="1024" cy="1047" r="3.5"/><circle class="h" cx="957" cy="1038" r="3.5"/><circle class="h" cx="925" cy="1058" r="3.5"/><circle class="h" cx="961" cy="1070" r="3.5"/>
</g>
<g id="labels">
<text class="t" transform="translate(141,255) scale(1.27,1)"><tspan class="p">ddos</tspan><tspan class="k">/</tspan></text>
<text class="t b" transform="translate(141,281) scale(1.27,1)">smh</text>
<text class="t" transform="translate(410,255) scale(1.27,1)"><tspan class="p">ddos</tspan><tspan class="k">/</tspan></text>
<text class="t b" transform="translate(410,281) scale(1.27,1)">DT</text>
<text class="t" transform="translate(678,255) scale(1.27,1)"><tspan class="p">ddos</tspan><tspan class="k">/</tspan></text>
<text class="t b" transform="translate(678,281) scale(1.27,1)">cossack-3networks</text>
<text class="t" transform="translate(946,255) scale(1.27,1)"><tspan class="p">ddos</tspan><tspan class="k">/</tspan></text>
<text class="t b" transform="translate(946,281) scale(1.27,1)">topology-20</text>
<text class="t" transform="translate(141,543) scale(1.27,1)"><tspan class="p">ddos</tspan><tspan class="k">/</tspan></text>
<text class="t p" transform="translate(141,569) scale(1.27,1)">Demo</text>
<text class="t" transform="translate(410,543) scale(1.27,1)"><tspan class="p">ddos</tspan><tspan class="k">/</tspan></text>
<text class="t b" transform="translate(410,569) scale(1.27,1)">Flood</text>
<text class="t" transform="translate(678,543) scale(1.27,1)"><tspan class="p">ddos</tspan><tspan class="k">/</tspan></text>
<text class="t p" transform="translate(678,569) scale(1.27,1)">trace</text>
<text class="t" transform="translate(946,543) scale(1.27,1)"><tspan class="p">ddos</tspan><tspan class="k">/</tspan></text>
<text class="t p" transform="translate(946,569) scale(1.27,1)">as11537-5s-2t</text>
<text class="t" transform="translate(141,831) scale(1.27,1)"><tspan class="p">ddos</tspan><tspan class="k">/</tspan></text>
<text class="t p" transform="translate(141,857) scale(1.27,1)">ring-4s-2t</text>
<text class="t" transform="translate(410,831) scale(1.27,1)"><tspan class="p">ddos</tspan><tspan class="k">/</tspan></text>
<text class="t p" transform="translate(410,857) scale(1.27,1)">ring-4s-2t-min</text>
<text class="t" transform="translate(678,831) scale(1.27,1)"><tspan class="p">ddos</tspan><tspan class="k">/</tspan></text>
<text class="t b" transform="translate(678,857) scale(1.27,1)">semiclique-4s-2t</text>
<text class="t" transform="translate(946,831) scale(1.27,1)"><tspan class="p">ddos</tspan><tspan class="k">/</tspan></text>
<text class="t p" transform="translate(946,857) scale(1.27,1)">tgcontrol</text>
<text class="t" transform="translate(141,1119) scale(1.27,1)"><tspan class="p">ddos</tspan><tspan class="k">/</tspan></text>
<text class="t p" transform="translate(141,1145) scale(1.27,1)">tgcontrol2800</text>
<text class="t" transform="translate(410,1119) scale(1.27,1)"><tspan class="p">FloodWatch</tspan><tspan class="k">/</tspan></text>
<text class="t b" transform="translate(410,1145) scale(1.27,1)">as11537-5s-2t</text>
<text class="t" transform="translate(678,1119) scale(1.27,1)"><tspan class="p">FloodWatch</tspan><tspan class="k">/</tspan></text>
<text class="t p" transform="translate(678,1145) scale(1.27,1)">ring-4s-2t</text>
<text class="t" transform="translate(946,1119) scale(1.27,1)"><tspan class="p">FloodWatch</tspan><tspan class="k">/</tspan></text>
<text class="t b" transform="translate(946,1145) scale(1.27,1)">semiclique-4s-2t</text>
</g>
</svg>
